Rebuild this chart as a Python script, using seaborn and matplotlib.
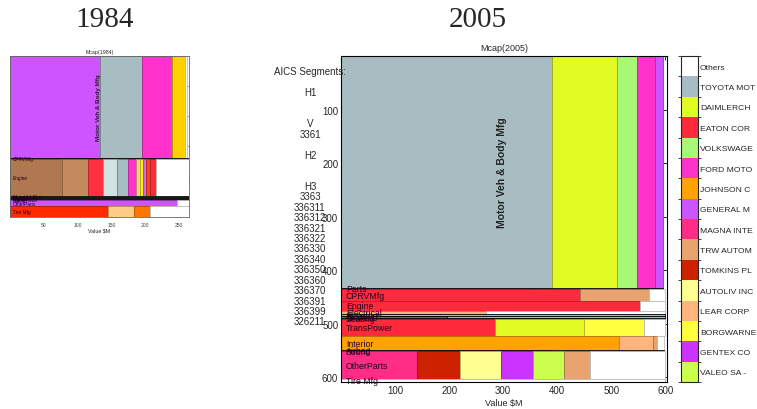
import numpy as np
import matplotlib
matplotlib.use("Agg")
import matplotlib.pyplot as plt
import seaborn as sns
from matplotlib.colors import ListedColormap, BoundaryNorm, to_rgb
from matplotlib.cm import ScalarMappable

sns.set_style("ticks")
plt.rcParams['font.family'] = ['Liberation Sans', 'DejaVu Sans']

# ---- 2005 companies (legend order, top to bottom) ----
companies_2005 = ["Others", "TOYOTA MOTOR CORP", "DAIMLERCHRYSLER AG", "EATON CORP",
                  "VOLKSWAGEN AG", "FORD MOTOR CO", "JOHNSON CONTROLS INC",
                  "GENERAL MOTORS CORP", "MAGNA INTERNATIONAL", "TRW AUTOMOTIVE",
                  "TOMKINS PLC", "AUTOLIV INC", "LEAR CORP", "BORGWARNER INC",
                  "GENTEX CORP", "VALEO SA -ADR"]
# legend text as far as it shows inside the picture
legend_text_2005 = ["Others", "TOYOTA MOT", "DAIMLERCH", "EATON COR", "VOLKSWAGE",
                    "FORD MOTO", "JOHNSON C", "GENERAL M", "MAGNA INTE", "TRW AUTOM",
                    "TOMKINS PL", "AUTOLIV INC", "LEAR CORP", "BORGWARNE", "GENTEX CO",
                    "VALEO SA -"]
colors_2005 = ["#ffffff", "#a8bdc2", "#e2fb24", "#ff2a3c", "#a8f878", "#ff33cc",
               "#ffa300", "#cc55ff", "#ff2d85", "#e8a36e", "#cc2200", "#ffff8f",
               "#ffb57d", "#ffff40", "#cc33ff", "#ccff4d"]

# ---- 2005 segments: company values ($M) per segment ----
motor_2005 = [("TOYOTA MOTOR CORP", 390), ("DAIMLERCHRYSLER AG", 120), ("VOLKSWAGEN AG", 37),
              ("FORD MOTOR CO", 33), ("GENERAL MOTORS CORP", 16)]
parts_2005 = [("GENERAL MOTORS CORP", 359), ("TOYOTA MOTOR CORP", 237)]
cprv_2005 = [("EATON CORP", 443), ("TRW AUTOMOTIVE", 127), ("Others", 30)]
engine_2005 = [("EATON CORP", 553), ("Others", 47)]
elec_2005 = [("LEAR CORP", 268), ("Others", 332)]
steer_2005 = [("TOYOTA MOTOR CORP", 600)]
brakes_2005 = [("EATON CORP", 196), ("TOYOTA MOTOR CORP", 404)]
seating_2005 = [("TRW AUTOMOTIVE", 517), ("Others", 83)]
trans_2005 = [("EATON CORP", 285), ("DAIMLERCHRYSLER AG", 165), ("BORGWARNER INC", 110), ("Others", 40)]
interior_2005 = [("JOHNSON CONTROLS INC", 515), ("LEAR CORP", 62), ("TRW AUTOMOTIVE", 7), ("Others", 14)]
airbag_2005 = [("MAGNA INTERNATIONAL", 388), ("Others", 210)]
sound_2005 = [("Others", 598)]
other_2005 = [("MAGNA INTERNATIONAL", 141), ("TOMKINS PLC", 79), ("AUTOLIV INC", 76),
              ("GENTEX CORP", 60), ("VALEO SA -ADR", 57), ("TRW AUTOMOTIVE", 47), ("Others", 140)]
tire_2005 = [("Others", 600)]

segments_2005 = ["Motor Veh & Body Mfg", "Parts", "CPRVMfg", "Engine", "Electrical", "Steering",
                 "Brakes", "Seating", "TransPower", "Interior", "Airbag", "Sound", "OtherParts", "Tire Mfg"]
heights_2005 = [433, 3, 21, 20, 5, 4, 4, 2, 31, 27, 1, 1, 51, 6]
values_2005 = [motor_2005, parts_2005, cprv_2005, engine_2005, elec_2005, steer_2005, brakes_2005,
               seating_2005, trans_2005, interior_2005, airbag_2005, sound_2005, other_2005, tire_2005]

# ---- 1984 ----
colors_1984 = {"Others": "#ffffff", "GENERAL MOTORS": "#cc55ff", "FORD MOTOR": "#a8bdc2",
               "CHRYSLER": "#ff33cc", "AMERICAN MOTORS": "#ffd000", "DANA": "#b07850",
               "EATON": "#c48a5e", "TRW": "#ff3040", "BORG WARNER": "#d2e2e2",
               "CUMMINS": "#a8bdc2", "FEDERAL MOGUL": "#ff33cc", "ARVIN": "#ffc890",
               "SPARTON": "#ffee10", "SMITH AO": "#cc66ff", "SHELLER": "#ff4020",
               "HOUDAILLE": "#ff2a3c", "GOODYEAR": "#ff2a00", "FIRESTONE": "#ffcc88",
               "GENERAL TIRE": "#ff7700"}
motor_1984 = [("GENERAL MOTORS", 133), ("FORD MOTOR", 62), ("CHRYSLER", 45),
              ("AMERICAN MOTORS", 19), ("Others", 3)]
cprv_1984 = [("DANA", 215), ("Others", 50)]
engine_1984 = [("DANA", 77), ("EATON", 38), ("TRW", 23), ("BORG WARNER", 20), ("CUMMINS", 16),
               ("FEDERAL MOGUL", 12), ("ARVIN", 6), ("SPARTON", 5), ("SMITH AO", 5),
               ("SHELLER", 6), ("HOUDAILLE", 8), ("Others", 49)]
thin_1984 = [("Others", 265)]
other_1984 = [("GENERAL MOTORS", 247), ("Others", 18)]
tire_1984 = [("GOODYEAR", 145), ("FIRESTONE", 39), ("GENERAL TIRE", 23), ("Others", 58)]

segments_1984 = ["Motor Veh & Body Mfg", "CPRVMfg", "Engine", "MotorVehElec", "Steering",
                 "Brakes", "TransPower", "Interior", "OtherParts", "Tire Mfg"]
heights_1984 = [339, 5, 123, 3, 3, 3, 3, 3, 17, 37]
values_1984 = [motor_1984, cprv_1984, engine_1984, thin_1984, thin_1984, thin_1984,
               thin_1984, thin_1984, other_1984, tire_1984]

aics_labels = ["AICS Segments:", "", "H1", "", "", "V", "3361", "", "H2", "", "", "H3", "3363",
               "336311", "336312", "336321", "336322", "336330", "336340", "336350", "336360",
               "336370", "336391", "336399", "326211"]


def darker(c, f=0.7):
    r, g, b = to_rgb(c)
    if (r, g, b) == (1.0, 1.0, 1.0):
        return "#bbbbbb"
    return (r * f, g * f, b * f)


def draw_mosaic(ax, segments, heights, values, cmap, px_per_unit, fs, big_fs, xmax):
    y = 0
    for seg, h, vals in zip(segments, heights, values):
        left = 0
        thin = h * px_per_unit < 2.2
        for comp, v in vals:
            col = cmap[comp]
            ax.barh(y, v, left=left, height=h, align='edge', color=col,
                    edgecolor='black' if thin else darker(col), linewidth=0.6)
            left += v
        if seg.startswith("Motor Veh"):
            ax.text(left / 2, y + h / 2, seg, rotation=90, ha='center', va='center',
                    fontsize=big_fs, fontweight='bold', color='#222222')
        else:
            ax.text(xmax * 0.015, y + h / 2, seg, ha='left', va='center',
                    fontsize=fs, color='#220022')
        y += h
    ax.set_ylim(y, 0)
    ax.set_xlim(0, xmax)


fig = plt.figure(figsize=(7.57, 4.10), dpi=100)
W, H = 757, 410

# 1984 panel
ax84 = fig.add_axes([10 / W, 1 - 217.7 / H, 179 / W, 161 / H])
draw_mosaic(ax84, segments_1984, heights_1984, values_1984, colors_1984, 0.3, 3.4, 4.5, 265)
ax84.set_xticks([50, 100, 150, 200, 250])
ax84.set_yticks([100, 200, 300, 400, 500])
ax84.set_yticklabels([])
ax84.tick_params(labelsize=3.6, length=1.5, width=0.4, direction='in',
                 top=True, right=True, colors='#444444')
ax84.set_xlabel("Value \\$M", fontsize=3.8, labelpad=1)
ax84.set_title("Mcap(1984)", fontsize=3.8, pad=2)
for s in ax84.spines.values():
    s.set_linewidth(0.6)
    s.set_color('#666666')

# 2005 panel
color_map_2005 = dict(zip(companies_2005, colors_2005))
ax05 = fig.add_axes([341 / W, 1 - 383 / H, 326 / W, 326 / H])
draw_mosaic(ax05, segments_2005, heights_2005, values_2005, color_map_2005, 0.535, 6.3, 7.5, 603)
ax05.set_xticks([100, 200, 300, 400, 500, 600])
ax05.set_yticks([100, 200, 300, 400, 500, 600])
ax05.tick_params(labelsize=7, length=3, width=0.7, direction='in', top=True, right=True, pad=2)
ax05.set_xlabel("Value \\$M", fontsize=6.5, labelpad=2)
ax05.set_title("Mcap(2005)", fontsize=6.5, pad=4)
for s in ax05.spines.values():
    s.set_linewidth(0.8)
    s.set_color('black')

# AICS segment codes to the left of the 2005 panel
for i, lab in enumerate(aics_labels):
    if lab:
        fig.text(310 / W, 1 - (72.3 + 10.42 * i) / H, lab, ha='center', va='center', fontsize=7)

# colorbar legend
cax = fig.add_axes([681 / W, 1 - 383 / H, 17 / W, 326 / H])
n = len(companies_2005)
cmap = ListedColormap(colors_2005)
norm = BoundaryNorm(np.arange(n + 1) - 0.5, n)
cb = fig.colorbar(ScalarMappable(norm=norm, cmap=cmap), cax=cax, ticks=np.arange(n))
cb.ax.set_yticklabels(legend_text_2005, fontsize=6.1)
cb.ax.invert_yaxis()
cb.ax.yaxis.set_ticks_position('both')
cb.ax.yaxis.set_label_position('right')
cb.ax.tick_params(direction='in', length=3, width=0.6, labelleft=False, labelright=True, pad=1.5)
cb.outline.set_linewidth(0.8)

# year headings
fig.text(105 / W, 1 - 20 / H, "1984", fontsize=21, family='Liberation Serif', ha='center', va='center')
fig.text(478 / W, 1 - 20 / H, "2005", fontsize=21, family='Liberation Serif', ha='center', va='center')

fig.savefig("out.png", dpi=100)
